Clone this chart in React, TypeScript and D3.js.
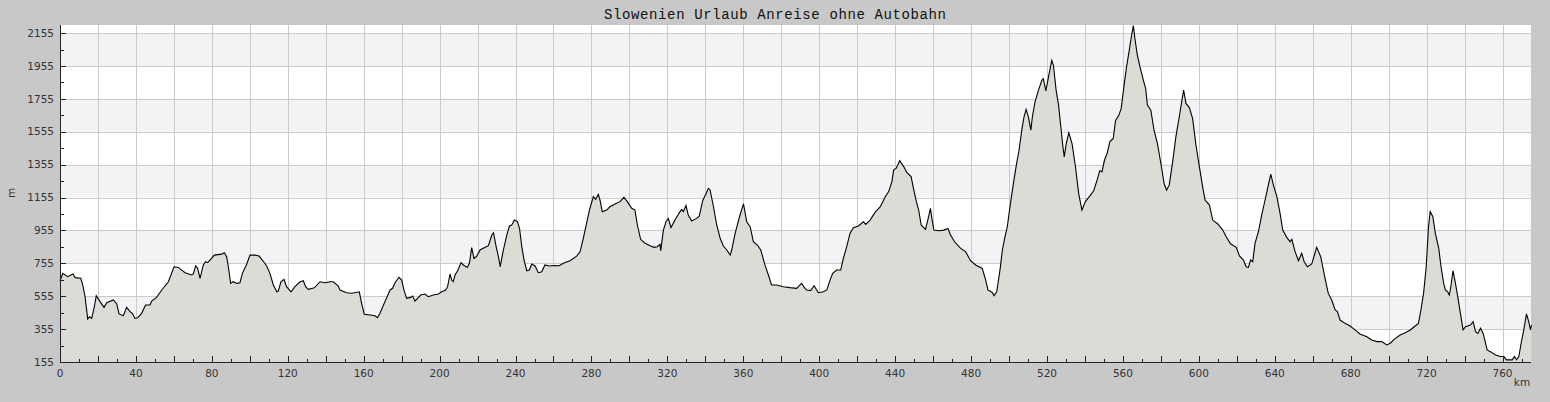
import { useEffect, useRef } from "react";
import * as d3 from "d3";

const title = "Slowenien Urlaub Anreise ohne Autobahn";

// distance along the route (km)
const kmPoints = [
  0, 0.5, 1.5, 4, 6.8, 8, 10.9, 11.8, 13.2, 14.6, 15.5, 16.7, 18.1, 19.1, 21.1, 23.2, 24.6, 28.1, 29.9, 31.1,
  33.4, 35.1, 36.9, 38.1, 39.5, 40.9, 43, 45.1, 47.4, 48.3, 50.9, 53.6, 57.1, 60.1, 62.3, 65.9, 69.4, 70.2, 71.5, 72.5,
  73.8, 75.5, 76.7, 77.8, 79, 81.3, 85.2, 86.6, 87.8, 88.7, 89.9, 91.3, 93.1, 94.8, 96.1, 98.4, 100.1, 102.8, 104.9, 106.6,
  108.9, 110.6, 112.4, 114.2, 115, 116.4, 118, 119.4, 121.7, 123.8, 126.5, 128.2, 129.4, 130.8, 134, 137, 139.6, 142.3, 144, 146.6,
  147.5, 151, 153.7, 157.7, 158.9, 160.3, 163.3, 165.9, 167.2, 168.6, 171.2, 173.9, 175.2, 176.5, 178.6, 180, 181.2, 182.6, 184.7, 185.8,
  187, 188.8, 190, 192.3, 194, 196.7, 199.3, 201.1, 203.2, 204.2, 205.5, 206.4, 207.2, 208.1, 209.5, 211.3, 212.5, 214.6, 215.7, 216.9,
  218.1, 219.6, 221.3, 224, 225.7, 227.5, 228.4, 229.8, 231, 231.9, 233.6, 235.4, 236.8, 238, 239.4, 241, 242.1, 243.3, 244.5, 245.9,
  247.3, 248.5, 250.3, 252, 253.8, 255.5, 257.8, 260.3, 263, 265.2, 268.7, 272.2, 274, 275.7, 277.5, 279.2, 281, 282.2, 283.6, 284.5,
  285.7, 288, 289.7, 292.4, 295, 297.1, 298.9, 301.2, 302.9, 304.2, 305.9, 308.2, 310.9, 313, 314.7, 316.1, 316.5, 317.9, 319.3, 320.5,
  321.9, 324, 326.1, 327.5, 328.4, 329.8, 331, 332.8, 335.4, 336.8, 338.6, 340.4, 341.6, 342.5, 344.3, 346, 347.8, 349.5, 351.3, 353.1,
  353.9, 355.7, 358, 360.1, 361.8, 363.6, 365.3, 367.4, 369.2, 371.4, 373.2, 374.9, 377.6, 381.1, 384.6, 388.1, 390.7, 392.5, 393.4, 395.5,
  397.3, 399.5, 402.2, 404, 405.7, 407.1, 409.2, 411.3, 412.7, 414.5, 416.2, 418, 420.6, 423.3, 424.5, 426.8, 429.4, 432.2, 434.8, 436.6,
  438.3, 439.2, 440.6, 442.4, 444.5, 446.2, 448.4, 449.8, 451.2, 452.4, 453.7, 456, 457.2, 458.6, 459.5, 460.4, 463, 465.7, 467.8, 469.2,
  471.3, 474.5, 477.1, 479.7, 482.4, 485.9, 487.7, 488.9, 491.2, 492.1, 493.5, 495.3, 496.5, 497.7, 499.1, 500.5, 502.3, 504, 505.3, 506.7,
  507.9, 509, 510.2, 511.5, 512.3, 513.7, 515.5, 517.3, 518.1, 519.4, 520.8, 522.5, 523.4, 524.8, 526.1, 527.3, 528.4, 529.1, 530.1, 531.5,
  533.2, 534.9, 536.7, 538.4, 540.2, 542.5, 544.6, 546.4, 547.8, 549, 550.3, 551.7, 553.1, 554.9, 556.1, 557.9, 559.1, 560.5, 561.9, 563.2,
  564.6, 565.5, 566.3, 567.6, 569, 570.8, 572, 572.9, 574.7, 576.4, 578.2, 580, 581.7, 583, 584.4, 586.2, 587.9, 589.7, 591.1, 592,
  593.2, 595, 596.7, 598.5, 600.3, 602, 603.3, 605.6, 607.3, 610, 612.6, 614.4, 616.7, 619.7, 621.4, 623.5, 624.9, 626.1, 627.3, 628.4,
  629.6, 631.4, 633.1, 634.9, 636.6, 637.9, 639.3, 641.1, 642.8, 644.2, 646.3, 648.1, 649, 650.7, 652.5, 654.2, 655.5, 657.2, 659.5, 662.1,
  664.2, 666.5, 668.2, 670, 671.8, 673, 674.4, 677, 679.7, 682.3, 684.9, 688.5, 691.1, 693.8, 696.4, 699, 700.8, 703.5, 706.1, 708.7,
  711.4, 714, 715.7, 717, 718.4, 719.8, 721, 721.9, 723.3, 724.6, 726.4, 727.6, 729, 729.9, 731.1, 732, 732.9, 733.9, 735.2, 736.4,
  737.8, 739.2, 740.5, 743.1, 744.5, 745.8, 747, 748.4, 749.8, 751.9, 753.6, 756.3, 758.9, 760.7, 762.1, 765.1, 766.3, 767.4, 768.6, 769.8,
  771.2, 772.6, 773.8, 774.7, 775.2,
];

// elevation (m) at each km point
const elevations = [
  650, 664, 694, 674, 690, 668, 664, 633, 552, 416, 430, 420, 491, 558, 522, 487, 515, 532, 508, 447,
  436, 487, 461, 451, 420, 424, 451, 502, 502, 526, 548, 593, 643, 734, 730, 698, 684, 690, 739, 725,
  664, 745, 765, 759, 775, 805, 811, 819, 795, 734, 633, 643, 633, 637, 694, 751, 805, 805, 799, 775,
  739, 694, 623, 582, 586, 643, 657, 613, 582, 613, 643, 649, 613, 597, 606, 643, 637, 643, 643, 617,
  593, 576, 573, 582, 512, 445, 441, 436, 424, 451, 522, 593, 603, 637, 670, 653, 593, 542, 548, 556,
  526, 546, 562, 568, 552, 562, 568, 582, 593, 613, 690, 653, 643, 684, 710, 759, 745, 730, 755, 850,
  785, 799, 836, 852, 862, 927, 941, 855, 795, 734, 836, 927, 982, 988, 1018, 1008, 968, 855, 775, 710,
  714, 751, 739, 698, 704, 745, 739, 742, 740, 755, 771, 799, 825, 907, 1002, 1090, 1160, 1144, 1174, 1140,
  1069, 1079, 1099, 1116, 1130, 1156, 1130, 1090, 1079, 988, 901, 877, 862, 852, 856, 870, 832, 957, 1008, 1028,
  973, 1018, 1059, 1083, 1069, 1106, 1049, 1012, 1028, 1042, 1136, 1180, 1211, 1201, 1099, 988, 907, 860, 836, 805,
  836, 937, 1038, 1116, 1008, 978, 887, 866, 836, 745, 684, 623, 623, 613, 607, 603, 633, 603, 593, 589,
  619, 576, 582, 593, 653, 694, 714, 714, 785, 856, 937, 971, 982, 1008, 992, 1018, 1065, 1099, 1160, 1191,
  1252, 1322, 1333, 1379, 1343, 1306, 1282, 1201, 1130, 1079, 988, 961, 1018, 1089, 1018, 957, 953, 957, 967, 927,
  886, 846, 826, 771, 745, 724, 653, 593, 578, 558, 582, 720, 836, 907, 978, 1099, 1241, 1363, 1444, 1565,
  1646, 1691, 1646, 1565, 1646, 1737, 1808, 1868, 1878, 1804, 1889, 1989, 1959, 1808, 1717, 1584, 1463, 1402, 1483, 1548,
  1483, 1351, 1179, 1079, 1130, 1164, 1196, 1261, 1318, 1312, 1383, 1423, 1494, 1514, 1622, 1656, 1697, 1828, 1949, 2041,
  2143, 2200, 2122, 2021, 1949, 1868, 1818, 1717, 1686, 1565, 1483, 1362, 1240, 1200, 1230, 1372, 1524, 1646, 1747, 1808,
  1727, 1702, 1636, 1473, 1341, 1220, 1140, 1109, 1018, 994, 957, 917, 874, 852, 800, 775, 734, 730, 775, 765,
  876, 947, 1048, 1140, 1231, 1297, 1231, 1160, 1059, 957, 913, 886, 901, 826, 771, 816, 765, 734, 751, 852,
  795, 663, 572, 532, 471, 461, 410, 390, 374, 350, 325, 309, 289, 279, 279, 259, 269, 299, 319, 333,
  350, 374, 390, 471, 572, 734, 977, 1069, 1038, 937, 846, 734, 633, 593, 582, 562, 623, 710, 633, 552,
  451, 350, 370, 380, 400, 340, 329, 360, 329, 228, 218, 198, 188, 188, 168, 168, 188, 168, 188, 269,
  350, 447, 400, 350, 380,
];

const yTicks = [155, 355, 555, 755, 955, 1155, 1355, 1555, 1755, 1955, 2155];
const xTickLabels = [0, 40, 80, 120, 160, 200, 240, 280, 320, 360, 400, 440, 480, 520, 560, 600, 640, 680, 720, 760];

const W = 1550;
const H = 402;
const M = { left: 60, right: 19, top: 25, bottom: 40 };
const KM_MAX = 775;
const Y_MIN = 155;
const Y_MAX = 2204;

const App = () => {
  const ref = useRef<SVGSVGElement>(null!);

  useEffect(() => {
    const data = kmPoints.map((km, i) => ({ km, ele: elevations[i] }));
    const svg = d3.select(ref.current);
    svg.selectAll("*").remove();

    const x = d3.scaleLinear().domain([0, KM_MAX]).range([M.left, W - M.right]);
    const y = d3.scaleLinear().domain([Y_MIN, Y_MAX]).range([H - M.bottom, M.top]);
    const x0 = M.left;
    const x1 = W - M.right;
    const yBottom = H - M.bottom;

    svg.append("rect").attr("width", W).attr("height", H).attr("fill", "#c8c8c8");
    svg.append("rect")
      .attr("x", x0).attr("y", M.top)
      .attr("width", x1 - x0).attr("height", yBottom - M.top)
      .attr("fill", "#ffffff");

    // alternating bands
    const bands = [355, 755, 1155, 1555, 1955];
    svg.append("g").selectAll("rect")
      .data(bands)
      .enter()
      .append("rect")
      .attr("x", x0)
      .attr("width", x1 - x0)
      .attr("y", (d) => y(d + 200))
      .attr("height", (d) => y(d) - y(d + 200))
      .attr("fill", "#f3f2f5");

    // grid
    const grid = svg.append("g").attr("stroke", "#cbcbcb").attr("stroke-width", 1);
    grid.selectAll("line.h")
      .data(yTicks.slice(1))
      .enter()
      .append("line")
      .attr("x1", x0).attr("x2", x1)
      .attr("y1", (d) => Math.round(y(d)) + 0.5)
      .attr("y2", (d) => Math.round(y(d)) + 0.5);
    grid.selectAll("line.v")
      .data(d3.range(20, KM_MAX, 20))
      .enter()
      .append("line")
      .attr("y1", M.top).attr("y2", yBottom)
      .attr("x1", (d) => Math.round(x(d)) + 0.5)
      .attr("x2", (d) => Math.round(x(d)) + 0.5);

    const area = d3.area<{ km: number; ele: number }>()
      .x((d) => x(d.km))
      .y0(yBottom)
      .y1((d) => y(d.ele));
    const line = d3.line<{ km: number; ele: number }>()
      .x((d) => x(d.km))
      .y((d) => y(d.ele));

    svg.append("path").datum(data).attr("d", area).attr("fill", "#dcdbd6");
    svg.append("path").datum(data).attr("d", line)
      .attr("fill", "none").attr("stroke", "#000").attr("stroke-width", 1.1);

    // axes
    const axes = svg.append("g").attr("stroke", "#222").attr("stroke-width", 1);
    axes.append("line").attr("x1", x0 + 0.5).attr("x2", x0 + 0.5).attr("y1", M.top).attr("y2", yBottom + 0.5);
    axes.append("line").attr("x1", x0).attr("x2", x1).attr("y1", yBottom + 0.5).attr("y2", yBottom + 0.5);

    axes.selectAll("line.yt")
      .data(d3.range(155, 2205, 100))
      .enter()
      .append("line")
      .attr("x1", x0)
      .attr("x2", (d) => x0 + ((d - 155) % 200 === 0 ? 6 : 4))
      .attr("y1", (d) => Math.round(y(d)) + 0.5)
      .attr("y2", (d) => Math.round(y(d)) + 0.5);
    axes.selectAll("line.xt")
      .data(d3.range(10, KM_MAX, 10))
      .enter()
      .append("line")
      .attr("y1", yBottom)
      .attr("y2", (d) => yBottom - (d % 20 === 0 ? 6 : 3))
      .attr("x1", (d) => Math.round(x(d)) + 0.5)
      .attr("x2", (d) => Math.round(x(d)) + 0.5);

    const labels = svg.append("g")
      .attr("font-family", "'DejaVu Sans', sans-serif")
      .attr("font-size", 10.5)
      .attr("fill", "#333");
    labels.selectAll("text.y")
      .data(yTicks)
      .enter()
      .append("text")
      .attr("x", 54)
      .attr("y", (d) => y(d))
      .attr("dy", "0.35em")
      .attr("text-anchor", "end")
      .text((d) => d);
    labels.selectAll("text.x")
      .data(xTickLabels)
      .enter()
      .append("text")
      .attr("x", (d) => x(d))
      .attr("y", yBottom + 15)
      .attr("text-anchor", "middle")
      .text((d) => d);
    labels.append("text")
      .attr("x", 1522).attr("y", 386)
      .attr("text-anchor", "middle")
      .text("km");
    labels.append("text")
      .attr("transform", "translate(15,193) rotate(-90)")
      .attr("text-anchor", "middle")
      .text("m");

    svg.append("text")
      .attr("x", 775)
      .attr("y", 19)
      .attr("text-anchor", "middle")
      .attr("font-family", "'Liberation Mono', 'DejaVu Sans Mono', monospace")
      .attr("font-size", 14)
      .attr("textLength", 342)
      .attr("lengthAdjust", "spacing")
      .attr("fill", "#111")
      .text(title);
  }, []);

  return (
    <svg
      ref={ref}
      width={W}
      height={H}
      style={{ position: "absolute", left: 0, top: 0, display: "block" }}
    />
  );
};

export default App;
